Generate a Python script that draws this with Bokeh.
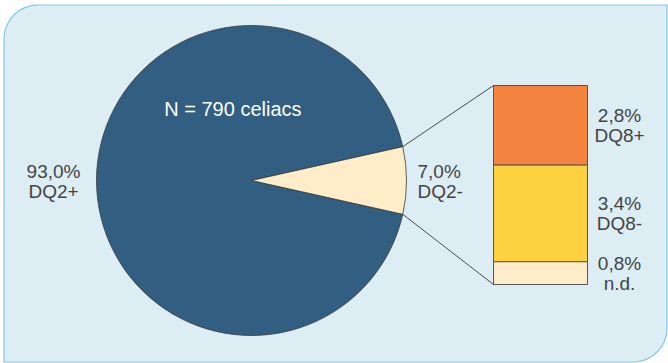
import numpy as np
from bokeh.plotting import figure
from bokeh.models import Range1d
from bokeh.core.properties import value
from bokeh.embed import file_html
from bokeh.resources import INLINE

# ---- data ----
pie_labels = ["DQ2+", "DQ2-"]
pie_values = [93.0, 7.0]
bar_labels = ["DQ8+", "DQ8-", "n.d."]
bar_values = [2.8, 3.4, 0.8]
center_label = "N = 790 celiacs"

pie_colors = ["#315e81", "#feedc8"]
bar_colors = ["#f58441", "#fed141", "#feedc8"]

W, H = 668, 363
FONT = value("Liberation Sans")
TXT = "#444444"
EDGE = "#3a3a3a"


def fmt(v):
    return f"{v:.1f}".replace(".", ",") + "%"


p = figure(width=W, height=H, x_range=Range1d(0, W), y_range=Range1d(0, H),
           output_backend="svg", toolbar_location=None, min_border=0,
           x_axis_location=None, y_axis_location=None)
p.grid.visible = False
p.outline_line_color = None
p.background_fill_color = "white"
p.border_fill_color = "white"

# ---- rounded panel background (top-left and bottom-right rounded) ----
L, R_, B, T = 3.5, 666.5, 1.5, 358.5
rad = 34
def arc(cx, cy, a0, a1, n=20):
    t = np.linspace(a0, a1, n)
    return list(cx + rad * np.cos(t)), list(cy + rad * np.sin(t))
xs, ys = [], []
ax_, ay_ = arc(L + rad, T - rad, np.pi / 2, np.pi)
xs += ax_; ys += ay_
xs += [L]; ys += [B]
ax_, ay_ = arc(R_ - rad, B + rad, -np.pi / 2, 0)
xs += ax_; ys += ay_
xs += [R_]; ys += [T]
p.patch(xs, ys, fill_color="#ddedf4", line_color="#7fcbe3", line_width=1.2)

# ---- pie ----
cx, cy, R = 251, 183, 155
total = sum(pie_values)
small = pie_values[1] / total * 2 * np.pi
starts = [small / 2, -small / 2]
ends = [2 * np.pi - small / 2, small / 2]
p.wedge(x=[cx, cx], y=[cy, cy], radius=R, start_angle=starts, end_angle=ends,
        fill_color=pie_colors, line_color=EDGE, line_width=0.8)

# center label
p.text(x=[cx - 0.12 * R], y=[cy + 0.46 * R], text=[center_label],
       text_font=FONT, text_font_size="20px", text_color="white",
       text_align="center", text_baseline="middle")

# pie labels (outside, left and right)
p.text(x=[cx - R - 43] * 2, y=[cy + 9, cy - 11],
       text=[fmt(pie_values[0]), pie_labels[0]],
       text_font=FONT, text_font_size="19px", text_color=TXT,
       text_align="center", text_baseline="middle")
p.text(x=[cx + R + 11] * 2, y=[cy + 9, cy - 11],
       text=[fmt(pie_values[1]), pie_labels[1]],
       text_font=FONT, text_font_size="19px", text_color=TXT,
       text_align="left", text_baseline="middle")

# ---- bar of pie ----
bar_left, bar_right = 493, 587
bar_top, bar_bot = H - 85, H - 284
scale = (bar_top - bar_bot) / sum(bar_values)
tops, bots = [], []
cur = bar_top
for v in bar_values:
    tops.append(cur)
    cur -= v * scale
    bots.append(cur)
p.quad(left=bar_left, right=bar_right, top=tops, bottom=bots,
       fill_color=bar_colors, line_color="#555555", line_width=1)

# connector lines
ex1 = cx + R * np.cos(small / 2); ey1 = cy + R * np.sin(small / 2)
ex2 = cx + R * np.cos(-small / 2); ey2 = cy + R * np.sin(-small / 2)
p.segment(x0=[ex1, ex2], y0=[ey1, ey2], x1=[bar_left, bar_left], y1=[bar_top, bar_bot],
          line_color=EDGE, line_width=0.9)

# bar labels
lx = bar_right + 32
mids = [(t + b) / 2 for t, b in zip(tops, bots)]
p.text(x=[lx] * 3, y=[m + 10 for m in mids], text=[fmt(v) for v in bar_values],
       text_font=FONT, text_font_size="19px", text_color=TXT,
       text_align="center", text_baseline="middle")
p.text(x=[lx] * 3, y=[m - 10 for m in mids], text=bar_labels,
       text_font=FONT, text_font_size="19px", text_color=TXT,
       text_align="center", text_baseline="middle")

open("out.html", "w").write(file_html(p, INLINE))
